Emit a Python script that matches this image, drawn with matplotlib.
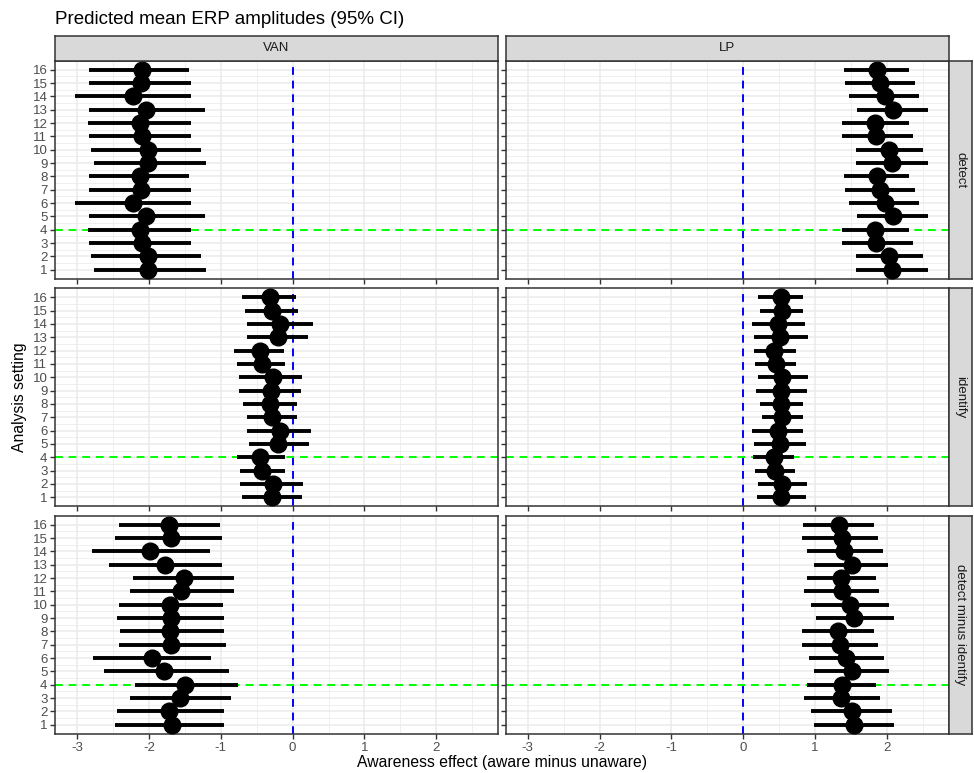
import matplotlib
matplotlib.use("Agg")
import matplotlib.pyplot as plt

plt.rcParams['font.family'] = ['Liberation Sans', 'DejaVu Sans']

# analysis settings (y axis)
settings = [1, 2, 3, 4, 5, 6, 7, 8, 9, 10, 11, 12, 13, 14, 15, 16]
components = ["VAN", "LP"]
contrasts = ["detect", "identify", "detect minus identify"]

# estimates and 95% CI, listed for settings 1..16
van_detect_est = [-2.01, -2.02, -2.10, -2.12, -2.04, -2.22, -2.11, -2.12,
                  -2.01, -2.02, -2.10, -2.12, -2.04, -2.22, -2.11, -2.10]
van_detect_lo = [-2.76, -2.81, -2.84, -2.85, -2.84, -3.03, -2.84, -2.83,
                 -2.76, -2.81, -2.84, -2.85, -2.84, -3.03, -2.84, -2.83]
van_detect_hi = [-1.21, -1.27, -1.41, -1.42, -1.22, -1.41, -1.41, -1.44,
                 -1.21, -1.27, -1.41, -1.42, -1.22, -1.41, -1.41, -1.44]

lp_detect_est = [2.07, 2.03, 1.85, 1.84, 2.09, 1.97, 1.90, 1.86,
                 2.07, 2.03, 1.85, 1.84, 2.09, 1.97, 1.90, 1.86]
lp_detect_lo = [1.57, 1.57, 1.37, 1.37, 1.58, 1.48, 1.42, 1.41,
                1.57, 1.57, 1.37, 1.37, 1.58, 1.48, 1.42, 1.41]
lp_detect_hi = [2.58, 2.51, 2.37, 2.31, 2.58, 2.45, 2.39, 2.31,
                2.58, 2.51, 2.37, 2.31, 2.58, 2.45, 2.39, 2.31]

van_identify_est = [-0.29, -0.27, -0.42, -0.45, -0.20, -0.18, -0.29, -0.31,
                    -0.30, -0.28, -0.43, -0.45, -0.20, -0.18, -0.29, -0.31]
van_identify_lo = [-0.70, -0.73, -0.74, -0.78, -0.61, -0.63, -0.64, -0.69,
                   -0.75, -0.75, -0.77, -0.81, -0.63, -0.64, -0.67, -0.70]
van_identify_hi = [0.13, 0.14, -0.10, -0.11, 0.23, 0.25, 0.06, 0.06,
                   0.11, 0.13, -0.10, -0.12, 0.22, 0.28, 0.07, 0.04]

lp_identify_est = [0.53, 0.54, 0.45, 0.43, 0.52, 0.48, 0.54, 0.53,
                   0.53, 0.54, 0.46, 0.43, 0.52, 0.49, 0.54, 0.53]
lp_identify_lo = [0.19, 0.20, 0.17, 0.14, 0.15, 0.12, 0.26, 0.24,
                  0.18, 0.21, 0.16, 0.15, 0.15, 0.13, 0.24, 0.21]
lp_identify_hi = [0.87, 0.89, 0.72, 0.71, 0.87, 0.84, 0.83, 0.83,
                  0.89, 0.90, 0.74, 0.73, 0.90, 0.86, 0.84, 0.83]

van_dmi_est = [-1.68, -1.72, -1.57, -1.50, -1.79, -1.96, -1.69, -1.71,
               -1.69, -1.71, -1.55, -1.52, -1.78, -1.99, -1.70, -1.72]
van_dmi_lo = [-2.47, -2.45, -2.27, -2.20, -2.63, -2.78, -2.42, -2.40,
              -2.44, -2.42, -2.26, -2.22, -2.56, -2.80, -2.47, -2.42]
van_dmi_hi = [-0.95, -0.95, -0.86, -0.76, -0.88, -1.14, -0.93, -0.96,
              -0.95, -0.97, -0.82, -0.81, -0.99, -1.15, -0.98, -1.01]

lp_dmi_est = [1.55, 1.52, 1.36, 1.38, 1.51, 1.43, 1.35, 1.32,
              1.55, 1.49, 1.37, 1.36, 1.51, 1.41, 1.37, 1.33]
lp_dmi_lo = [0.98, 0.95, 0.85, 0.89, 0.99, 0.92, 0.82, 0.82,
             1.02, 0.95, 0.85, 0.89, 0.98, 0.89, 0.82, 0.83]
lp_dmi_hi = [2.10, 2.07, 1.91, 1.85, 2.03, 1.96, 1.88, 1.82,
             2.10, 2.03, 1.89, 1.85, 2.02, 1.95, 1.88, 1.82]

panels = {
    ("detect", "VAN"): (van_detect_est, van_detect_lo, van_detect_hi),
    ("detect", "LP"): (lp_detect_est, lp_detect_lo, lp_detect_hi),
    ("identify", "VAN"): (van_identify_est, van_identify_lo, van_identify_hi),
    ("identify", "LP"): (lp_identify_est, lp_identify_lo, lp_identify_hi),
    ("detect minus identify", "VAN"): (van_dmi_est, van_dmi_lo, van_dmi_hi),
    ("detect minus identify", "LP"): (lp_dmi_est, lp_dmi_lo, lp_dmi_hi),
}

ref_setting = 4
x_ticks = [-3, -2, -1, 0, 1, 2]

W, H = 974, 773
fig = plt.figure(figsize=(W / 100, H / 100), dpi=100)

col_left = [55, 505.5]
col_w = 443
row_top = [60.5, 288, 515.5]
row_h = 218.5

def frac(x, y, w, h):
    return [x / W, 1 - (y + h) / H, w / W, h / H]

border = "#333333"
for r, contrast in enumerate(contrasts):
    for c, comp in enumerate(components):
        ax = fig.add_axes(frac(col_left[c], row_top[r], col_w, row_h))
        est, lo, hi = panels[(contrast, comp)]
        ax.set_xlim(-3.31, 2.86)
        ax.set_ylim(0.3, 16.7)
        ax.set_xticks(x_ticks)
        ax.set_xticks([-2.5, -1.5, -0.5, 0.5, 1.5, 2.5], minor=True)
        ax.set_yticks(settings)
        ax.set_yticks([s + 0.5 for s in settings[:-1]], minor=True)
        ax.grid(which="major", color="#EBEBEB", linewidth=1.1)
        ax.grid(which="minor", color="#EBEBEB", linewidth=0.55)
        ax.set_axisbelow(True)
        for sp in ax.spines.values():
            sp.set_color(border)
            sp.set_linewidth(1.1)
        ax.tick_params(which="minor", length=0)
        ax.tick_params(which="major", length=3.5, width=1.0, color=border,
                       labelsize=9.5, labelcolor="#4D4D4D", pad=2)
        ax.hlines(settings, lo, hi, color="black", linewidth=2.8, zorder=3)
        ax.plot(est, settings, "o", color="black", markersize=12, zorder=4)
        ax.axvline(0, color="#0000FF", linewidth=1.4, dashes=(4, 3), zorder=2)
        ax.axhline(ref_setting, color="#00FF00", linewidth=1.4, dashes=(4, 3), zorder=2)
        if c == 0:
            ax.set_yticklabels([str(s) for s in settings])
        else:
            ax.tick_params(axis="y", labelleft=False)
        if r == len(contrasts) - 1:
            ax.set_xticklabels([str(t) for t in x_ticks])
        else:
            ax.tick_params(axis="x", labelbottom=False)

        # strips
        if r == 0:
            sa = fig.add_axes(frac(col_left[c], 36, col_w, 24.5))
            sa.set_facecolor("#D9D9D9")
            sa.set_xticks([])
            sa.set_yticks([])
            for sp in sa.spines.values():
                sp.set_color(border)
                sp.set_linewidth(1.1)
            sa.text(0.5, 0.5, comp, ha="center", va="center", fontsize=9.5,
                    color="#1A1A1A", transform=sa.transAxes)
        if c == 1:
            sa = fig.add_axes(frac(col_left[c] + col_w, row_top[r], 23, row_h))
            sa.set_facecolor("#D9D9D9")
            sa.set_xticks([])
            sa.set_yticks([])
            for sp in sa.spines.values():
                sp.set_color(border)
                sp.set_linewidth(1.1)
            sa.text(0.5, 0.5, contrast, ha="center", va="center", fontsize=9.5,
                    color="#1A1A1A", rotation=-90, transform=sa.transAxes)

fig.text(55 / W, 1 - 19 / H, "Predicted mean ERP amplitudes (95% CI)",
         ha="left", va="center", fontsize=13.5, color="black")
fig.text(502 / W, 1 - 763 / H, "Awareness effect (aware minus unaware)",
         ha="center", va="center", fontsize=11.3, color="black")
fig.text(20 / W, 1 - 397 / H, "Analysis setting", ha="center", va="center",
         rotation=90, fontsize=11.3, color="black")

fig.savefig("out.png", dpi=100, facecolor="white")
